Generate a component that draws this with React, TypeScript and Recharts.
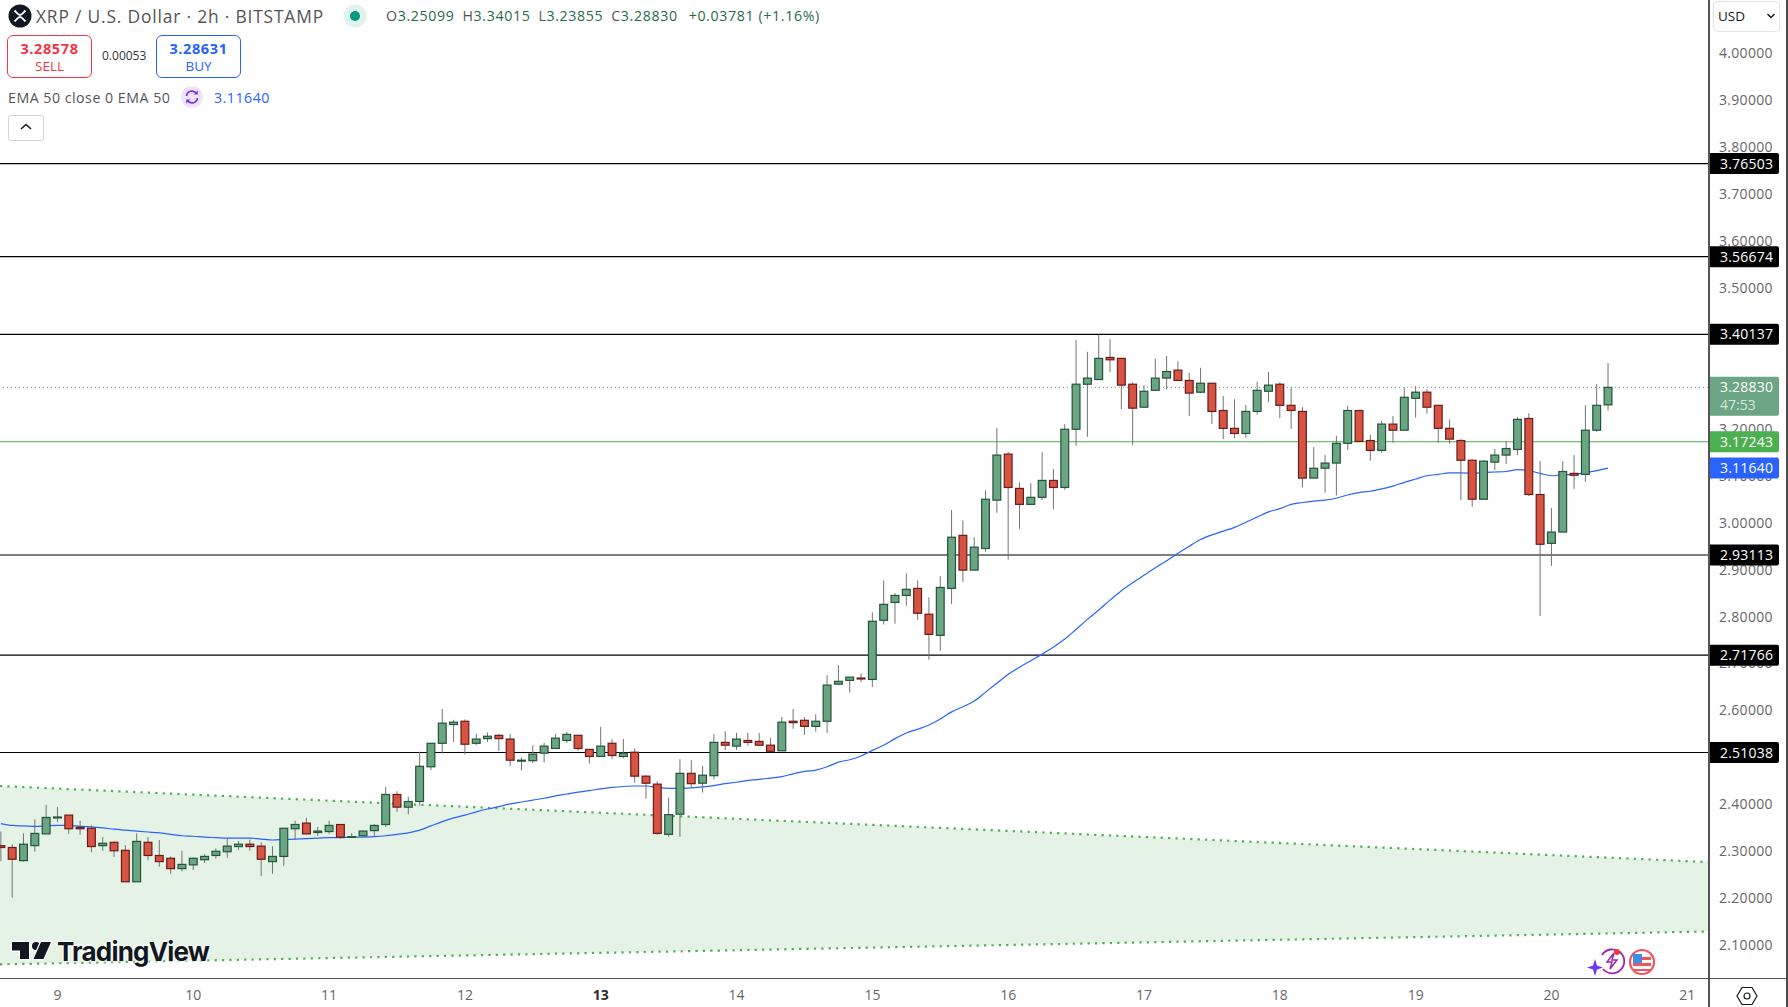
import { Area, Bar, ComposedChart, Line, ReferenceLine, XAxis, YAxis } from 'recharts';

const font = '"Open Sans", "Noto Sans", sans-serif';

// 2h candles, oldest first
const opens = [
  2.312, 2.308, 2.28, 2.312, 2.337, 2.371, 2.377, 2.351, 2.349, 2.312,
  2.319, 2.302, 2.235, 2.319, 2.291, 2.285, 2.263, 2.271, 2.282, 2.291,
  2.299, 2.31, 2.315, 2.311, 2.278, 2.289, 2.348, 2.36, 2.34, 2.342,
  2.357, 2.33, 2.333, 2.344, 2.357, 2.421, 2.394, 2.406, 2.48, 2.53,
  2.57, 2.577, 2.53, 2.54, 2.547, 2.539, 2.492, 2.493, 2.509, 2.519,
  2.536, 2.547, 2.517, 2.502, 2.53, 2.502, 2.511, 2.46, 2.443, 2.336,
  2.379, 2.466, 2.445, 2.461, 2.532, 2.524, 2.536, 2.534, 2.526, 2.514,
  2.577, 2.579, 2.566, 2.577, 2.656, 2.664, 2.669, 2.666, 2.792, 2.83,
  2.845, 2.86, 2.805, 2.76, 2.86, 2.973, 2.899, 2.945, 3.048, 3.146,
  3.073, 3.039, 3.054, 3.09, 3.075, 3.199, 3.295, 3.305, 3.352, 3.35,
  3.295, 3.246, 3.282, 3.308, 3.325, 3.303, 3.278, 3.297, 3.239, 3.201,
  3.19, 3.237, 3.28, 3.295, 3.25, 3.237, 3.095, 3.116, 3.127, 3.169,
  3.239, 3.175, 3.154, 3.21, 3.197, 3.265, 3.278, 3.25, 3.201, 3.175,
  3.133, 3.05, 3.129, 3.144, 3.156, 3.222, 3.06, 2.956, 2.98, 3.105,
  3.103, 3.197, 3.25099,
];
const highs = [
  2.342, 2.315, 2.338, 2.368, 2.399, 2.394, 2.377, 2.365, 2.355, 2.33,
  2.321, 2.313, 2.338, 2.33, 2.324, 2.289, 2.301, 2.287, 2.294, 2.306,
  2.328, 2.322, 2.325, 2.319, 2.311, 2.349, 2.365, 2.371, 2.352, 2.365,
  2.357, 2.339, 2.345, 2.358, 2.437, 2.428, 2.416, 2.512, 2.53, 2.603,
  2.58, 2.581, 2.55, 2.553, 2.549, 2.55, 2.5, 2.526, 2.531, 2.55,
  2.554, 2.547, 2.517, 2.565, 2.539, 2.539, 2.519, 2.462, 2.449, 2.414,
  2.496, 2.494, 2.482, 2.55, 2.556, 2.552, 2.552, 2.552, 2.541, 2.586,
  2.603, 2.586, 2.592, 2.675, 2.697, 2.671, 2.679, 2.809, 2.877, 2.85,
  2.892, 2.877, 2.841, 2.886, 3.027, 3.005, 2.969, 3.069, 3.202, 3.151,
  3.086, 3.084, 3.15, 3.114, 3.21, 3.389, 3.364, 3.401, 3.391, 3.35,
  3.299, 3.293, 3.349, 3.355, 3.344, 3.319, 3.33, 3.297, 3.27, 3.263,
  3.251, 3.3, 3.321, 3.299, 3.288, 3.246, 3.161, 3.144, 3.185, 3.249,
  3.239, 3.187, 3.217, 3.227, 3.288, 3.291, 3.284, 3.25, 3.22, 3.178,
  3.135, 3.133, 3.157, 3.173, 3.225, 3.233, 3.131, 3.031, 3.131, 3.144,
  3.25, 3.295, 3.34015,
];
const lows = [
  2.279, 2.201, 2.278, 2.299, 2.337, 2.362, 2.337, 2.335, 2.298, 2.301,
  2.288, 2.235, 2.235, 2.281, 2.267, 2.252, 2.257, 2.26, 2.275, 2.284,
  2.286, 2.303, 2.301, 2.247, 2.252, 2.269, 2.324, 2.337, 2.333, 2.337,
  2.327, 2.33, 2.333, 2.332, 2.352, 2.384, 2.379, 2.397, 2.473, 2.508,
  2.533, 2.506, 2.526, 2.533, 2.514, 2.482, 2.472, 2.488, 2.489, 2.519,
  2.531, 2.514, 2.487, 2.502, 2.497, 2.498, 2.446, 2.412, 2.335, 2.331,
  2.331, 2.436, 2.425, 2.453, 2.516, 2.516, 2.525, 2.525, 2.511, 2.514,
  2.561, 2.548, 2.555, 2.552, 2.654, 2.638, 2.66, 2.65, 2.783, 2.785,
  2.823, 2.793, 2.708, 2.727, 2.827, 2.874, 2.899, 2.938, 3.021, 2.921,
  2.987, 3.039, 3.048, 3.029, 3.07, 3.164, 3.183, 3.305, 3.321, 3.242,
  3.165, 3.246, 3.282, 3.284, 3.303, 3.227, 3.276, 3.21, 3.178, 3.18,
  3.181, 3.23, 3.257, 3.223, 3.2, 3.075, 3.095, 3.064, 3.058, 3.155,
  3.173, 3.132, 3.149, 3.17, 3.197, 3.224, 3.232, 3.17, 3.168, 3.048,
  3.034, 3.05, 3.112, 3.125, 3.144, 3.057, 2.801, 2.908, 2.98, 3.072,
  3.087, 3.194, 3.23855,
];
const closes = [
  2.308, 2.283, 2.315, 2.338, 2.372, 2.373, 2.348, 2.348, 2.31, 2.317,
  2.301, 2.235, 2.321, 2.291, 2.278, 2.263, 2.272, 2.285, 2.289, 2.3,
  2.311, 2.315, 2.31, 2.283, 2.289, 2.349, 2.357, 2.337, 2.343, 2.355,
  2.33, 2.331, 2.343, 2.355, 2.421, 2.394, 2.406, 2.481, 2.53, 2.573,
  2.575, 2.528, 2.539, 2.545, 2.54, 2.494, 2.494, 2.507, 2.524, 2.541,
  2.549, 2.519, 2.502, 2.524, 2.504, 2.509, 2.46, 2.445, 2.338, 2.378,
  2.466, 2.444, 2.462, 2.532, 2.526, 2.539, 2.532, 2.526, 2.513, 2.575,
  2.574, 2.566, 2.577, 2.654, 2.662, 2.671, 2.667, 2.79, 2.826, 2.845,
  2.858, 2.807, 2.762, 2.862, 2.969, 2.899, 2.948, 3.05, 3.144, 3.075,
  3.039, 3.054, 3.09, 3.075, 3.199, 3.295, 3.308, 3.35, 3.347, 3.293,
  3.244, 3.28, 3.308, 3.322, 3.303, 3.276, 3.297, 3.237, 3.201, 3.19,
  3.237, 3.282, 3.293, 3.25, 3.239, 3.095, 3.116, 3.127, 3.169, 3.239,
  3.173, 3.154, 3.21, 3.197, 3.267, 3.278, 3.246, 3.201, 3.178, 3.133,
  3.05, 3.131, 3.144, 3.158, 3.22, 3.06, 2.954, 2.98, 3.109, 3.101,
  3.197, 3.25, 3.2883,
];
const ema50 = [
  2.359, 2.355, 2.354, 2.353, 2.354, 2.355, 2.355, 2.353, 2.352, 2.35,
  2.347, 2.345, 2.343, 2.341, 2.339, 2.336, 2.333, 2.332, 2.33, 2.329,
  2.328, 2.328, 2.328, 2.326, 2.324, 2.325, 2.326, 2.327, 2.328, 2.329,
  2.329, 2.33, 2.33, 2.331, 2.333, 2.336, 2.339, 2.345, 2.354, 2.363,
  2.371, 2.377, 2.384, 2.39, 2.395, 2.401, 2.405, 2.409, 2.413, 2.418,
  2.422, 2.426, 2.429, 2.433, 2.436, 2.438, 2.439, 2.439, 2.436, 2.434,
  2.434, 2.435, 2.437, 2.44, 2.444, 2.447, 2.451, 2.453, 2.456, 2.459,
  2.465, 2.47, 2.473, 2.48, 2.49, 2.495, 2.503, 2.515, 2.526, 2.54,
  2.552, 2.56, 2.569, 2.582, 2.597, 2.608, 2.62, 2.639, 2.658, 2.677,
  2.692, 2.706, 2.72, 2.735, 2.752, 2.773, 2.794, 2.814, 2.835, 2.855,
  2.872, 2.888, 2.904, 2.919, 2.935, 2.95, 2.964, 2.974, 2.982, 2.99,
  3.001, 3.012, 3.023, 3.03, 3.039, 3.043, 3.046, 3.048, 3.052, 3.059,
  3.064, 3.067, 3.072, 3.078, 3.086, 3.093, 3.1, 3.103, 3.106, 3.106,
  3.105, 3.107, 3.108, 3.109, 3.113, 3.111, 3.105, 3.1, 3.102, 3.103,
  3.106, 3.111, 3.1164,
];

const supportLevels = [3.76503, 3.56674, 3.40137, 2.93113, 2.71766, 2.51038];
// 3.4 and 2.5 sit fully behind their price tags in the picture
const priceTicks = [4.0, 3.9, 3.8, 3.7, 3.6, 3.5, 3.3, 3.2, 3.1, 3.0, 2.9, 2.8, 2.7, 2.6, 2.4, 2.3, 2.2, 2.1];
const priceDomain = [2.03, 4.1135];
const lastClose = 3.2883;
const alertLevel = 3.17243;
const lastEma = 3.1164;

// candle number where each day starts, and the day it shows
const dayCandles = [5, 17, 29, 41, 53, 65, 77, 89, 101, 113, 125, 137, 149];
const dayLabels = ['9', '10', '11', '12', '13', '14', '15', '16', '17', '18', '19', '20', '21'];
const candleDomain = [-0.08, 150.83];

// falling channel, its two ends
const channelUpper = [2.439, 2.277];
const channelLower = [2.059, 2.129];

const candles = opens.map((open, i) => ({
  n: i,
  open,
  close: closes[i],
  range: [lows[i], highs[i]],
  ema: ema50[i],
}));

const channel = candleDomain.map((n, i) => ({
  n,
  upper: channelUpper[i],
  lower: channelLower[i],
  band: [channelLower[i], channelUpper[i]],
}));

function Candle(props: any) {
  const { x, y, width, height, payload } = props;
  const top = Math.min(y, y + height);
  const span = Math.abs(height);
  const [low, high] = payload.range;
  const k = span / (high - low);
  const up = payload.close >= payload.open;
  const bodyTop = top + (high - Math.max(payload.open, payload.close)) * k;
  const bodyBottom = top + (high - Math.min(payload.open, payload.close)) * k;
  const cx = x + width / 2;
  return (
    <g>
      <line x1={cx} x2={cx} y1={top} y2={top + span} stroke="#737373" strokeWidth={1} />
      <rect
        x={cx - 3.9}
        y={bodyTop}
        width={7.8}
        height={Math.max(bodyBottom - bodyTop, 0.6)}
        fill={up ? '#6ba583' : '#d75442'}
        stroke={up ? '#225437' : '#6b1a1a'}
        strokeWidth={1.2}
      />
    </g>
  );
}

function PriceTag(props: any) {
  const { viewBox, text, bg, sub } = props;
  const x = viewBox.x + viewBox.width;
  const y = viewBox.y;
  const h = sub ? 39 : 21;
  return (
    <g>
      <path
        d={`M${x} ${y - 10.5}H${x + 69}a2 2 0 0 1 2 2V${y - 10.5 + h - 2}a2 2 0 0 1 -2 2H${x}Z`}
        fill={bg}
      />
      <text x={x + 12} y={y + 5} fill="#fff" fontSize={14} letterSpacing={0.2} fontFamily={font} fontWeight={500}>
        {text}
      </text>
      {sub && (
        <text x={x + 12} y={y + 23} fill="#d5e6db" fontSize={14} fontFamily={font}>
          {sub}
        </text>
      )}
    </g>
  );
}

function DayTick(props: any) {
  const { x, y, index } = props;
  const label = dayLabels[index];
  return (
    <text
      x={x}
      y={y + 14}
      textAnchor="middle"
      fill={label === '13' ? '#2a2e39' : '#666'}
      fontWeight={label === '13' ? 700 : 400}
      fontSize={14}
      fontFamily={font}
    >
      {label}
    </text>
  );
}

function box(left: number, top: number, width: number, height: number, extra: any) {
  return { position: 'absolute', left, top, width, height, boxSizing: 'border-box', ...extra } as any;
}

function text(left: number, top: number, size: number, color: string, extra: any = {}) {
  return {
    position: 'absolute',
    left,
    top,
    fontSize: size,
    color,
    lineHeight: '20px',
    whiteSpace: 'nowrap',
    ...extra,
  } as any;
}

function Header() {
  const green = '#1f6b4a';
  const ohlc = { color: green };
  return (
    <>
      <svg style={{ position: 'absolute', left: 8, top: 4 }} width={24} height={24}>
        <circle cx={12} cy={12} r={11.5} fill="#131722" />
        <path d="M6.5 6.5C9 9 10 11 12 11C14 11 15 9 17.5 6.5M6.5 17.5C9 15 10 13 12 13C14 13 15 15 17.5 17.5" stroke="#fff" strokeWidth={1.8} fill="none" />
      </svg>
      <div style={text(36, 6, 17.4, '#555', { letterSpacing: 0.82 })}>XRP / U.S. Dollar · 2h · BITSTAMP</div>
      <svg style={{ position: 'absolute', left: 343, top: 4 }} width={24} height={24}>
        <circle cx={12} cy={12} r={11.5} fill="#dff3ee" />
        <circle cx={12} cy={12} r={5} fill="#089981" />
      </svg>
      <div style={text(386, 6, 14.2, '#555', { letterSpacing: 0.63 })}>
        O<span style={ohlc}>3.25099</span>
        <span style={{ marginLeft: 8 }}>H</span><span style={ohlc}>3.34015</span>
        <span style={{ marginLeft: 8 }}>L</span><span style={ohlc}>3.23855</span>
        <span style={{ marginLeft: 8 }}>C</span><span style={ohlc}>3.28830</span>
        <span style={{ ...ohlc, marginLeft: 11 }}>+0.03781 (+1.16%)</span>
      </div>

      <div style={box(7, 35, 85, 43, { border: '1px solid #f23645', borderRadius: 6 })} />
      <div style={text(7, 39, 14.5, '#f23645', { width: 85, textAlign: 'center', fontWeight: 700, letterSpacing: 0.6 })}>3.28578</div>
      <div style={text(7, 56, 13.5, '#f23645', { width: 85, textAlign: 'center' })}>SELL</div>
      <div style={text(102, 46, 12, '#333')}>0.00053</div>
      <div style={box(156, 35, 85, 43, { border: '1px solid #2962ff', borderRadius: 6 })} />
      <div style={text(156, 39, 14.5, '#2962ff', { width: 85, textAlign: 'center', fontWeight: 700, letterSpacing: 0.6 })}>3.28631</div>
      <div style={text(156, 56, 13.5, '#2962ff', { width: 85, textAlign: 'center' })}>BUY</div>

      <div style={text(8, 88, 14.2, '#555', { letterSpacing: 0.5 })}>EMA 50 close 0 EMA 50</div>
      <svg style={{ position: 'absolute', left: 181, top: 86 }} width={22} height={22}>
        <circle cx={11} cy={11} r={11} fill="#ece4fb" />
        <path d="M5.5 10a5.5 5.5 0 0 1 10 -2.5M16.5 12a5.5 5.5 0 0 1 -10 2.5" stroke="#7b2cf0" strokeWidth={1.7} fill="none" />
        <path d="M16.8 4.6V8.6H12.8ZM5.2 17.4V13.4H9.2Z" fill="#7b2cf0" />
      </svg>
      <div style={text(214, 88, 14.2, '#2962ff', { letterSpacing: 0.5 })}>3.11640</div>

      <div style={box(8, 115, 36, 26, { border: '1px solid #d1d4dc', borderRadius: 3, background: '#fff' })} />
      <svg style={{ position: 'absolute', left: 19, top: 121 }} width={14} height={12}>
        <path d="M2 8L7 3.5L12 8" stroke="#131722" strokeWidth={1.5} fill="none" />
      </svg>

      <div style={box(1713, 1, 67, 31, { border: '1px solid #e0e3eb', borderRadius: 5, background: '#fff' })} />
      <div style={text(1718, 6, 13.5, '#131722')}>USD</div>
      <svg style={{ position: 'absolute', left: 1766, top: 12 }} width={10} height={8}>
        <path d="M1.5 2L5 5.5L8.5 2" stroke="#131722" strokeWidth={1.4} fill="none" />
      </svg>
    </>
  );
}

function Watermark() {
  return (
    <>
      <svg style={{ position: 'absolute', left: 10, top: 938 }} width={44} height={28}>
        <g stroke="#fff" strokeWidth={2.5} paintOrder="stroke">
          <path d="M2 4H19V21H10V12.5H2Z" fill="#131722" />
          <circle cx={26} cy={8} r={4} fill="#131722" />
          <path d="M31 4H41L33.5 21H23.5Z" fill="#131722" />
        </g>
      </svg>
      <div
        style={{
          position: 'absolute',
          left: 57,
          top: 934,
          fontFamily: 'Inter, Roboto, sans-serif',
          fontWeight: 700,
          fontSize: 26,
          letterSpacing: -0.8,
          lineHeight: '36px',
          color: '#131722',
          textShadow: '0 0 3px #fff, 0 0 3px #fff, 0 0 3px #fff',
        }}
      >
        TradingView
      </div>
    </>
  );
}

function CornerIcons() {
  return (
    <>
      <svg style={{ position: 'absolute', left: 1588, top: 946, overflow: 'visible' }} width={72} height={32}>
        <path d="M15 23A12 12 0 1 0 14 9" stroke="#9c27b0" strokeWidth={1.8} fill="none" />
        <path d="M26 7L19 16H24L22 23L29 14H24Z" fill="none" stroke="#9c27b0" strokeWidth={1.5} />
        <path d="M7 13L9 19.5L15 21.5L9 23.5L7 30L5 23.5L-1 21.5L5 19.5Z" fill="#6c3cf5" />
        <circle cx={29} cy={6} r={3} fill="#f23645" />
        <circle cx={54} cy={16} r={12} fill="#fff" stroke="#f0555f" strokeWidth={2.2} />
        <path d="M45 11H63V14H45ZM45 17H63V20H45ZM46 23H62V25H46Z" fill="#f0555f" />
        <path d="M45 8H54V17H45Z" fill="#3b8fe8" />
      </svg>
      <svg style={{ position: 'absolute', left: 1735, top: 985 }} width={24} height={22}>
        <path d="M7 2.5H17L22 11L17 19.5H7L2 11Z" stroke="#131722" strokeWidth={1.2} fill="none" />
        <circle cx={12} cy={11} r={3} stroke="#131722" strokeWidth={1.2} fill="none" />
      </svg>
    </>
  );
}

// second chart on the same scale, so the tags cover the axis labels
function TagLayer() {
  return (
    <div style={{ position: 'absolute', left: 0, top: 0 }}>
      <ComposedChart
        width={1786}
        height={1007}
        data={candles}
        margin={{ top: 0, right: 78, bottom: 29, left: 0 }}
      >
        <XAxis dataKey="n" type="number" domain={candleDomain} hide />
        <YAxis type="number" domain={priceDomain} allowDataOverflow hide />
        {supportLevels.map((level) => (
          <ReferenceLine
            key={level}
            y={level}
            stroke="none"
            label={<PriceTag text={level.toFixed(5)} bg="#000" />}
          />
        ))}
        <ReferenceLine y={lastClose} stroke="none" label={<PriceTag text={lastClose.toFixed(5)} sub="47:53" bg="#6ba583" />} />
        <ReferenceLine y={alertLevel} stroke="none" label={<PriceTag text={alertLevel.toFixed(5)} bg="#4caf50" />} />
        <ReferenceLine y={lastEma} stroke="none" label={<PriceTag text={lastEma.toFixed(5)} bg="#2962ff" />} />
      </ComposedChart>
    </div>
  );
}

export default function App() {
  return (
    <div
      style={{
        position: 'absolute',
        left: 0,
        top: 0,
        width: 1788,
        height: 1007,
        overflow: 'hidden',
        background: '#fff',
        fontFamily: font,
      }}
    >
      <ComposedChart
        width={1786}
        height={1007}
        data={candles}
        margin={{ top: 0, right: 0, bottom: 0, left: 0 }}
      >
        <XAxis
          dataKey="n"
          type="number"
          domain={candleDomain}
          ticks={dayCandles}
          allowDataOverflow
          height={29}
          axisLine={false}
          tickLine={false}
          tick={<DayTick />}
          interval={0}
        />
        <YAxis
          orientation="right"
          type="number"
          domain={priceDomain}
          ticks={priceTicks}
          allowDataOverflow
          width={78}
          axisLine={false}
          tickLine={false}
          tickMargin={5}
          interval={0}
          tickFormatter={(v: number) => v.toFixed(5)}
          tick={{ fill: '#666', fontSize: 14, fontFamily: font, letterSpacing: 0.3 }}
        />
        <Area
          data={channel}
          dataKey="band"
          type="linear"
          stroke="none"
          fill="#4caf50"
          fillOpacity={0.15}
          isAnimationActive={false}
          zIndex={50}
        />
        <Line
          data={channel}
          dataKey="upper"
          type="linear"
          stroke="#4caf50"
          strokeWidth={2.2}
          strokeDasharray="2.2 5.2"
          dot={false}
          isAnimationActive={false}
          zIndex={60}
        />
        <Line
          data={channel}
          dataKey="lower"
          type="linear"
          stroke="#4caf50"
          strokeWidth={2.2}
          strokeDasharray="2.2 5.2"
          dot={false}
          isAnimationActive={false}
          zIndex={60}
        />
        {supportLevels.map((level) => (
          <ReferenceLine key={level} y={level} stroke="#000" strokeWidth={1.2} zIndex={70} />
        ))}
        <ReferenceLine y={lastClose} stroke="#6ba583" strokeDasharray="1 3" zIndex={70} />
        <ReferenceLine y={alertLevel} stroke="#4caf50" strokeWidth={1} zIndex={70} />
        <Line
          dataKey="ema"
          type="monotone"
          stroke="#2962ff"
          strokeWidth={1.2}
          dot={false}
          isAnimationActive={false}
          zIndex={80}
        />
        <Bar dataKey="range" barSize={9} shape={<Candle />} isAnimationActive={false} zIndex={90} />
      </ComposedChart>

      <TagLayer />
      <div style={box(1708, 0, 1.5, 1007, { background: '#555' })} />
      <div style={box(0, 977.5, 1786, 1.5, { background: '#555' })} />
      <div style={box(1786, 0, 2, 1007, { background: '#4a4a4a' })} />
      <Watermark />
      <CornerIcons />
      <Header />
    </div>
  );
}
